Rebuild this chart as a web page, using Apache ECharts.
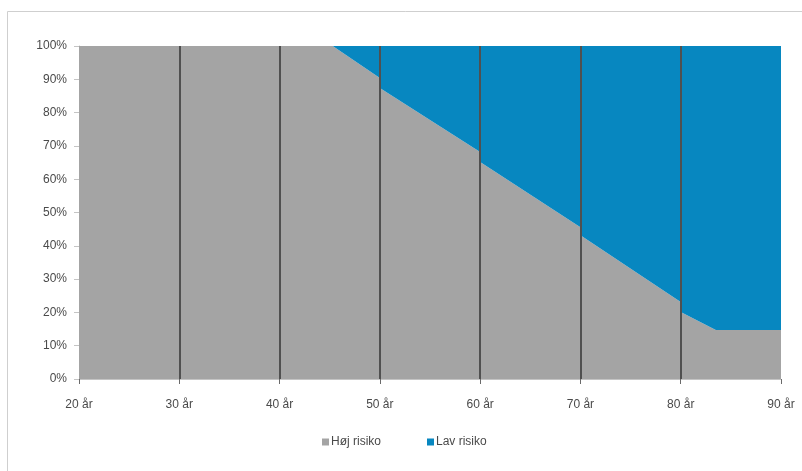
<!DOCTYPE html>
<html>
<head>
<meta charset="utf-8">
<style>
  html, body { margin: 0; padding: 0; background: #fff; }
  #chart { width: 802px; height: 471px; }
</style>
<script src="https://cdn.jsdelivr.net/npm/echarts@6/dist/echarts.min.js"></script>
</head>
<body>
<div id="chart"></div>
<script>
// Age in years (x positions of the breakpoints; steps occur at each decade)
const ages = [20, 45.3, 50, 50, 60, 60, 70, 70, 80, 80, 83.5, 90];
// Share of people at high risk (%)
const hojRisiko = [100, 100, 90.4, 87.4, 68.2, 65.2, 45.6, 43.2, 23.1, 20.1, 14.7, 14.7];
// Share of people at low risk (%)
const lavRisiko = [0, 0, 9.6, 12.6, 31.8, 34.8, 54.4, 56.8, 76.9, 79.9, 85.3, 85.3];
// Decade separators
const decadeLines = [30, 40, 50, 60, 70, 80];
const seriesNames = ['Høj risiko', 'Lav risiko'];
const seriesColors = ['#a4a4a4', '#0787c0'];

const chart = echarts.init(document.getElementById('chart'), null, { renderer: 'canvas' });

const pairs = (vals) => ages.map((a, i) => [a, vals[i]]);
const textStyle = { fontFamily: 'Liberation Sans, Arial, sans-serif', fontSize: 12, color: '#4a4a4a' };

chart.setOption({
  animation: false,
  backgroundColor: '#fff',
  graphic: [{
    type: 'rect',
    shape: { x: 7.5, y: 11.5, width: 820, height: 480 },
    style: { fill: 'none', stroke: '#cfcfcf', lineWidth: 1 },
    silent: true
  }],
  grid: { left: 79, right: 21, top: 46, bottom: 92 },
  legend: {
    data: seriesNames,
    left: 317,
    top: 431,
    itemWidth: 7,
    itemHeight: 7,
    itemGap: 46,
    icon: 'rect',
    textStyle: Object.assign({}, textStyle, { fontSize: 12, padding: [0, 0, 0, -3] })
  },
  xAxis: {
    type: 'value',
    min: 20,
    max: 90,
    interval: 10,
    axisLine: { show: true, lineStyle: { color: '#c4c4c4', width: 1 } },
    axisTick: { show: true, length: 5, lineStyle: { color: '#6a6a6a', width: 1 } },
    splitLine: { show: false },
    axisLabel: Object.assign({ margin: 20, formatter: (v) => v + ' år' }, textStyle)
  },
  yAxis: [
    {
      type: 'value',
      min: 0,
      max: 100,
      interval: 10,
      axisLine: { show: true, lineStyle: { color: '#c4c4c4', width: 1 } },
      axisTick: { show: true, length: 5, lineStyle: { color: '#c4c4c4', width: 1 } },
      splitLine: { show: false },
      axisLabel: Object.assign({ margin: 12, formatter: (v) => v + '%' }, textStyle)
    },
    {
      // Low-risk share measured downward from the 100% line
      type: 'value',
      min: 0,
      max: 100,
      inverse: true,
      show: false,
      splitLine: { show: false }
    }
  ],
  series: [
    {
      name: seriesNames[0],
      type: 'line',
      data: pairs(hojRisiko),
      showSymbol: false,
      symbol: 'none',
      lineStyle: { width: 0 },
      itemStyle: { color: seriesColors[0] },
      areaStyle: { color: seriesColors[0], opacity: 1 },
      z: 2
    },
    {
      name: seriesNames[1],
      type: 'line',
      yAxisIndex: 1,
      data: pairs(lavRisiko),
      showSymbol: false,
      symbol: 'none',
      lineStyle: { width: 0 },
      itemStyle: { color: seriesColors[1] },
      areaStyle: { color: seriesColors[1], opacity: 1, origin: 'start' },
      z: 2,
      markLine: {
        silent: true,
        symbol: 'none',
        label: { show: false },
        lineStyle: { color: '#505050', width: 2, type: 'solid' },
        data: decadeLines.map((x) => ({ xAxis: x }))
      }
    }
  ]
});
</script>
</body>
</html>
